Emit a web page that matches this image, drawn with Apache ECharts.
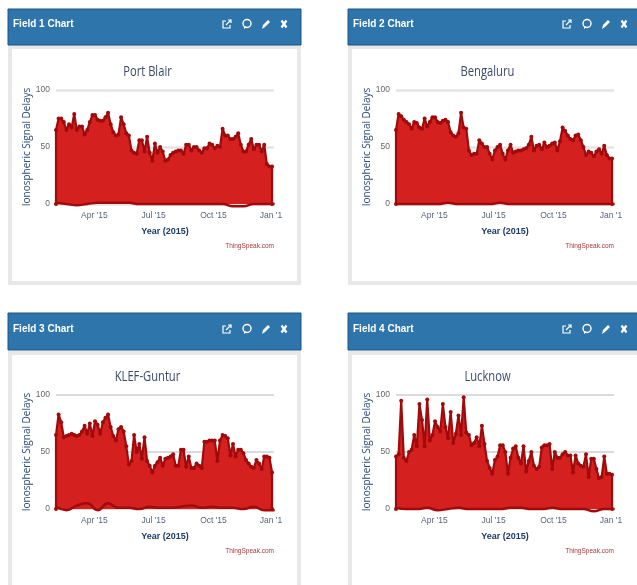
<!DOCTYPE html>
<html>
<head>
<meta charset="utf-8">
<style>
  html, body { margin: 0; padding: 0; background: #fff; }
  #main { width: 637px; height: 585px; filter: blur(0.5px); }
</style>
<script src="https://cdn.jsdelivr.net/npm/echarts@6/dist/echarts.min.js"></script>
</head>
<body>
<div id="main"></div>
<script>
// values, one every 4 days from 1 Feb 2015
const portBlair = [65,75,75,72,65,70,67,79,65,68,68,61,65,72,78,78,74,73,73,76,80,70,63,60,61,76,70,62,60,47,45,44,56,56,46,59,45,38,53,45,50,46,38,39,43,45,46,47,47,44,52,52,47,50,50,47,45,49,49,53,52,49,51,50,66,60,60,57,57,59,62,52,46,46,52,57,48,52,52,46,52,35,33,33]
const bengaluru = [65,79,77,74,72,70,66,72,71,67,66,75,68,72,76,76,72,71,73,74,72,63,60,59,62,80,67,66,47,43,44,44,56,53,50,50,44,39,47,50,52,44,39,47,52,45,46,47,47,48,49,52,59,47,51,52,48,54,50,51,53,54,47,55,67,64,60,57,56,60,61,56,50,43,46,45,42,46,48,44,51,43,40,40]
const klefGuntur = [65,83,76,63,64,65,66,65,64,65,68,73,66,75,64,77,74,66,76,80,83,72,64,60,70,72,68,55,39,42,65,50,57,44,63,42,38,32,38,41,45,38,44,45,46,48,38,38,52,52,37,46,36,36,40,38,36,59,59,60,60,60,42,60,65,64,62,47,57,46,52,52,49,43,40,37,36,43,40,35,46,46,45,32]
const lucknow = [46,48,95,45,42,50,52,65,55,92,78,55,96,60,65,77,72,68,92,72,62,85,58,66,82,65,98,67,65,56,58,63,55,73,57,42,36,31,43,46,56,56,50,31,45,53,55,45,40,55,33,42,50,38,35,37,54,56,56,57,35,50,45,45,48,50,47,47,32,47,40,38,37,48,28,44,44,35,27,28,46,31,31,30]

// bottom edge of the band, one every 16 days
const portBlairLow = [1,0,-1,0,1,1,1,1,0,0,0,0,0,0,0,0,0,-2,-2,0,0,0]
const bengaluruLow = [0,0,0,0,0,1,0,0,0,0,1,0,0,0,0,0,0,0,0,0,0,0]
const klefGunturLow = [2,-1,3,5,-1,5,1,1,0,2,1,1,2,3,1,2,1,1,0,2,-1,-1]
const lucknowLow = [1,0,0,1,-1,0,1,0,0,0,0,1,1,0,0,1,0,0,0,-2,0,0]

const fieldNames = ['Field 1 Chart', 'Field 2 Chart', 'Field 3 Chart', 'Field 4 Chart']
const placeNames = ['Port Blair', 'Bengaluru', 'KLEF-Guntur', 'Lucknow']
const highs = [portBlair, bengaluru, klefGuntur, lucknow]
const lows = [portBlairLow, bengaluruLow, klefGunturLow, lucknowLow]
const tickDates = ['2015-04-01', '2015-07-01', '2015-10-01', '2016-01-01']
const tickLabels = ["Apr '15", "Jul '15", "Oct '15", "Jan '16"]
const yTicks = [0, 50, 100]

const DAY = 86400000
const START = Date.UTC(2015, 1, 1)
const END = START + 335 * DAY
const tickTimes = tickDates.map(function (d) { return Date.parse(d + 'T00:00:00Z') })

// panel offsets
const offsets = [[0, 0], [340, 0], [0, 305], [340, 305]]

const chart = echarts.init(document.getElementById('main'), null, { width: 637, height: 585 })

// little header icons, drawn around 0,0
function iconParts(k) {
  const line = { stroke: '#fff', lineWidth: 1.2, fill: 'none' }
  if (k == 0) return [
    { type: 'polyline', z: 3, shape: { points: [[-1, -3], [-4, -3], [-4, 4], [3, 4], [3, 1]] }, style: line },
    { type: 'polyline', z: 3, shape: { points: [[-1, 1], [4, -4]] }, style: line },
    { type: 'polyline', z: 3, shape: { points: [[1, -4], [4, -4], [4, -1]] }, style: line }
  ]
  if (k == 1) return [
    { type: 'circle', z: 3, shape: { cx: 0, cy: -0.5, r: 4 }, style: { stroke: '#fff', lineWidth: 1.4, fill: 'none' } },
    { type: 'polygon', z: 3, shape: { points: [[-3, 2], [0, 3], [-3, 5]] }, style: { fill: '#fff' } }
  ]
  if (k == 2) return [
    { type: 'polygon', z: 3, shape: { points: [[-4, 5], [-3, 1], [2, -4], [4, -2], [-1, 3]] }, style: { fill: '#fff' } }
  ]
  const cross = { stroke: '#fff', lineWidth: 2.2, fill: 'none' }
  return [
    { type: 'line', z: 3, shape: { x1: -2.5, y1: -3.5, x2: 2.5, y2: 3.5 }, style: cross },
    { type: 'line', z: 3, shape: { x1: 2.5, y1: -3.5, x2: -2.5, y2: 3.5 }, style: cross }
  ]
}
const iconX = [227, 247, 266, 284]

let grid = [], xAxis = [], yAxis = [], series = [], graphic = []

offsets.forEach(function (o, n) {
  const ox = o[0], oy = o[1]
  const top = n < 2
  // panel frame
  graphic.push({ type: 'rect', z: 0, silent: true,
    shape: { x: ox + 10, y: oy + 47 + (top ? 0 : 1), width: 289, height: top ? 236 : 238 },
    style: { fill: '#fff', stroke: '#e8e8e8', lineWidth: 4 } })
  graphic.push({ type: 'rect', z: 1, silent: true,
    shape: { x: ox + 8, y: oy + 9 - (top ? 0 : 1), width: 293, height: top ? 36 : 37 },
    style: { fill: '#2e75ab', stroke: '#1a5288', lineWidth: 1 } })
  graphic.push({ type: 'text', z: 2, silent: true, x: ox + 13, y: oy + 24,
    style: { text: fieldNames[n], fill: '#fff', font: 'bold 10px "Liberation Sans"', textVerticalAlign: 'middle' } })
  iconX.forEach(function (ix, k) {
    graphic.push({ type: 'group', silent: true, x: ox + ix, y: oy + 24, children: iconParts(k) })
  })
  graphic.push({ type: 'text', z: 2, silent: true, x: ox + 147.5, y: oy + 72, scaleX: 0.8,
    style: { text: placeNames[n], fill: '#3c4a66', font: '14px "Open Sans"', textAlign: 'center', textVerticalAlign: 'middle' } })
  graphic.push({ type: 'text', z: 2, silent: true, x: ox + 274, y: oy + 246,
    style: { text: 'ThingSpeak.com', fill: '#a8383a', font: '6.5px "Liberation Sans"', textAlign: 'right', textVerticalAlign: 'middle' } })
  // the chart cuts the last tick label
  graphic.push({ type: 'rect', z: 20, silent: true,
    shape: { x: ox + 282, y: oy + 207, width: 12, height: 14 }, style: { fill: '#fff' } })

  grid.push({ left: ox + 56, top: oy + 90, width: 218, height: 114 })
  xAxis.push({ type: 'value', gridIndex: n, min: START, max: END,
    name: 'Year (2015)', nameLocation: 'middle', nameGap: 23,
    nameTextStyle: { fontFamily: '"Liberation Sans"', fontSize: 9, fontWeight: 'bold', color: '#1f3a66' },
    axisLine: { show: false }, axisTick: { show: false }, splitLine: { show: false },
    axisLabel: { margin: 7, fontFamily: '"Liberation Sans"', fontSize: 8.5, color: '#5a6478',
      customValues: tickTimes,
      formatter: function (v) { return tickLabels[tickTimes.indexOf(v)] } } })
  yAxis.push({ type: 'value', gridIndex: n, min: yTicks[0], max: yTicks[2], interval: yTicks[1],
    name: 'Ionospheric Signal Delays', nameLocation: 'middle', nameGap: 22,
    nameTextStyle: { fontFamily: '"Open Sans"', fontSize: 10, color: '#2a4a78' },
    axisLine: { show: false }, axisTick: { show: false },
    splitLine: { lineStyle: { color: top ? '#e4e4e4' : '#cfcfcf', width: top ? 2.5 : 1.5 } },
    axisLabel: { margin: 6, fontFamily: '"Liberation Sans"', fontSize: 8.5, color: '#666' } })

  const highData = highs[n].map(function (v, i) { return [START + i * 4 * DAY, v] })
  const lowData = lows[n].map(function (v, i) { return [START + i * 16 * DAY, v] })
  // drop to the axis at both ends so the band has its side edges
  highData.unshift([START, 0])
  highData.push([highData[highData.length - 1][0], 0])
  series.push({ type: 'line', xAxisIndex: n, yAxisIndex: n, clip: false, z: 3,
    data: highData, symbol: 'circle', symbolSize: 4, showAllSymbol: true,
    itemStyle: { color: '#a00a0a' }, lineStyle: { color: '#a00a0a', width: 2.2 },
    areaStyle: { color: '#d4201f', opacity: 1 } })
  series.push({ type: 'line', xAxisIndex: n, yAxisIndex: n, clip: false, z: 4,
    data: lowData, symbol: 'none', smooth: true,
    lineStyle: { color: '#a00a0a', width: 2.5 } })
})

chart.setOption({ animation: false, backgroundColor: '#fff', grid: grid,
  xAxis: xAxis, yAxis: yAxis, series: series, graphic: graphic })
</script>
</body>
</html>
